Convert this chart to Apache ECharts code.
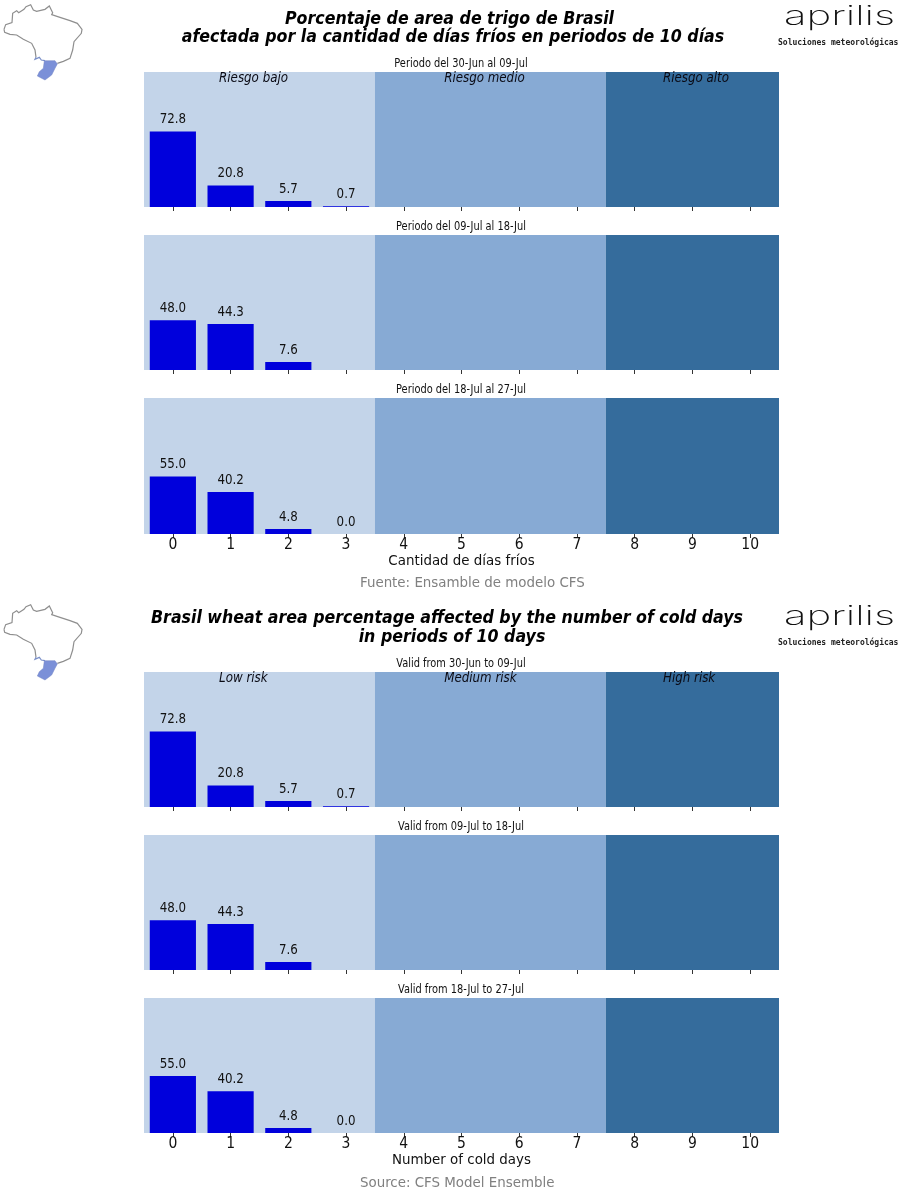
<!DOCTYPE html>
<html><head><meta charset="utf-8">
<style>html,body{margin:0;padding:0;background:#fff}#c{width:900px;height:1200px}</style>
<script src="https://cdn.jsdelivr.net/npm/echarts@6/dist/echarts.min.js"></script>
</head><body><div id="c"></div>
<script>
const days = ['0','1','2','3','4','5','6','7','8','9','10'];
const period1 = [72.8, 20.8, 5.7, 0.7, null, null, null, null, null, null, null];
const period2 = [48.0, 44.3, 7.6, null, null, null, null, null, null, null, null];
const period3 = [55.0, 40.2, 4.8, 0.0, null, null, null, null, null, null, null];
const bandStarts = [-0.5, 3.5, 7.5];
const bandEnds = [3.5, 7.5, 10.5];
const bandColors = ['#c3d4e9', '#87aad4', '#356c9c'];
const riskX = [0.8, 4.7, 8.49];
const riskEs = ['Riesgo bajo', 'Riesgo medio', 'Riesgo alto'];
const riskEn = ['Low risk', 'Medium risk', 'High risk'];
const titleEs = ['Porcentaje de area de trigo de Brasil', 'afectada por la cantidad de días fríos en periodos de 10 días'];
const titleEn = ['Brasil wheat area percentage affected by the number of cold days', 'in periods of 10 days'];
const panelEs = ['Periodo del 30-Jun al 09-Jul', 'Periodo del 09-Jul al 18-Jul', 'Periodo del 18-Jul al 27-Jul'];
const panelEn = ['Valid from 30-Jun to 09-Jul', 'Valid from 09-Jul to 18-Jul', 'Valid from 18-Jul to 27-Jul'];
const axisEs = 'Cantidad de días fríos', axisEn = 'Number of cold days';
const sourceEs = 'Fuente: Ensamble de modelo CFS', sourceEn = 'Source: CFS Model Ensemble';

const COND = '"DejaVu Sans Condensed","DejaVu Sans"';
const panels = [
  {top:72, h:135, vals:period1, sub:panelEs[0], risk:riskEs},
  {top:235,h:135, vals:period2, sub:panelEs[1]},
  {top:398,h:136, vals:period3, sub:panelEs[2], axis:axisEs},
  {top:672,h:135, vals:period1, sub:panelEn[0], risk:riskEn},
  {top:835,h:135, vals:period2, sub:panelEn[1]},
  {top:998,h:135, vals:period3, sub:panelEn[2], axis:axisEn}
];
const grid=[],xAxis=[],yAxis=[],series=[],title=[],graphic=[];
panels.forEach((p,i)=>{
  grid.push({left:144,width:635,top:p.top,height:p.h});
  xAxis.push({type:'category',gridIndex:i,data:days,boundaryGap:true,
    axisLine:{show:false},
    axisTick:{show:true,alignWithLabel:true,length:4,lineStyle:{color:'#333',width:1}},
    axisLabel:{show:!!p.axis,fontFamily:COND,fontSize:15.5,color:'#111',margin:3,interval:0},
    name:p.axis||'',nameLocation:'middle',nameGap:20,
    nameTextStyle:{fontFamily:COND,fontSize:14.9,color:'#111'},
    splitLine:{show:false},z:5});
  xAxis.push({type:'value',gridIndex:i,min:-0.5,max:10.5,show:false});
  yAxis.push({type:'value',gridIndex:i,min:0,max:130,show:false});
  series.push({type:'custom',xAxisIndex:2*i+1,yAxisIndex:i,z:1,silent:true,
    data:bandStarts.map((s,k)=>[s,bandEnds[k],k]),
    encode:{x:[0,1]},
    renderItem:(params,api)=>{
      const a=api.coord([api.value(0),130]), b=api.coord([api.value(1),0]);
      return {type:'rect',shape:{x:a[0],y:a[1],width:b[0]-a[0],height:b[1]-a[1]},
        style:{fill:bandColors[api.value(2)]}};
    }});
  series.push({type:'bar',xAxisIndex:2*i,yAxisIndex:i,z:3,barWidth:'80%',data:p.vals,
    itemStyle:{color:'#0000dc'},
    label:{show:true,position:'top',distance:5,fontFamily:COND,fontSize:13.2,color:'#111',
      formatter:o=>o.value==null?'':Number(o.value).toFixed(1)}});
  if(p.risk){
    series.push({type:'custom',xAxisIndex:2*i+1,yAxisIndex:i,z:4,silent:true,
      data:riskX.map((x,k)=>[x,124,k]),encode:{x:0,y:1},
      renderItem:(params,api)=>{
        const c=api.coord([api.value(0),api.value(1)]);
        return {type:'text',style:{x:c[0],y:c[1],text:p.risk[api.value(2)],align:'left',verticalAlign:'middle',
          font:'italic 13.2px '+COND,fill:'#0a0a14'}};
      }});
  }
  graphic.push({type:'text',x:461,y:p.top-8.5,scaleX:0.91,silent:true,
    style:{text:p.sub,align:'center',verticalAlign:'middle',font:'12px '+COND,fill:'#111'}});
});
const head=(t,x,y)=>title.push({text:t,left:x,top:y,textAlign:'center',padding:0,
  textStyle:{fontFamily:COND,fontSize:17.6,fontWeight:'bold',fontStyle:'italic',color:'#000'}});
head(titleEs[0],449.5,10);
head(titleEs[1],453,28);
head(titleEn[0],447,609);
head(titleEn[1],452,628);
const src=(t,y)=>title.push({text:t,left:360,top:y,padding:0,textStyle:{fontFamily:COND,fontSize:14.9,fontWeight:'normal',color:'#808080'}});
src(sourceEs,576);
src(sourceEn,1176);

// Decorative country outline and logo
const outline=[[12,88],[17,74],[36,68],[38,40],[50,32],[56,38],[72,28],[78,20],[92,14],[100,30],[110,34],[135,28],[148,18],[158,38],[155,44],[180,52],[210,62],[232,70],[246,88],[244,100],[222,125],[218,150],[210,175],[190,184],[172,190]];
const outlineW=[[12,88],[14,97],[30,103],[50,105],[70,118],[95,130],[105,150],[108,172]];
const river=[[108,172],[105,178],[118,172],[124,180],[135,182]];
const region=[[133,182],[165,182],[172,192],[165,205],[155,225],[135,240],[112,228],[118,215],[130,205]];
const sc=a=>a.map(p=>[p[0]/3,p[1]/3]);
[0,600].forEach(dy=>{
  [outline,outlineW].forEach(o=>graphic.push({type:'polyline',y:dy,shape:{points:sc(o)},silent:true,style:{stroke:'#8f8f8f',fill:null,lineWidth:1.2}}));
  graphic.push({type:'polyline',y:dy,shape:{points:sc(river)},silent:true,style:{stroke:'#7b90c8',fill:null,lineWidth:1.2}});
  graphic.push({type:'polygon',y:dy,shape:{points:sc(region)},silent:true,style:{fill:'#7b90d8',stroke:'#7384c4',lineWidth:.5}});
  graphic.push({type:'text',x:784,y:dy+3,scaleX:1.55,silent:true,style:{text:'aprilis',font:'200 27px Inter, Lato',fill:'#111'}});
  graphic.push({type:'text',x:778,y:dy+39,silent:true,style:{text:'Soluciones meteorológicas',font:'bold 8px "DejaVu Sans Mono"',fill:'#222'}});
});

const chart=echarts.init(document.getElementById('c'),null,{renderer:'canvas',width:900,height:1200});
chart.setOption({animation:false,backgroundColor:'#fff',tooltip:{show:false},title,grid,xAxis,yAxis,series,graphic});
</script></body></html>
